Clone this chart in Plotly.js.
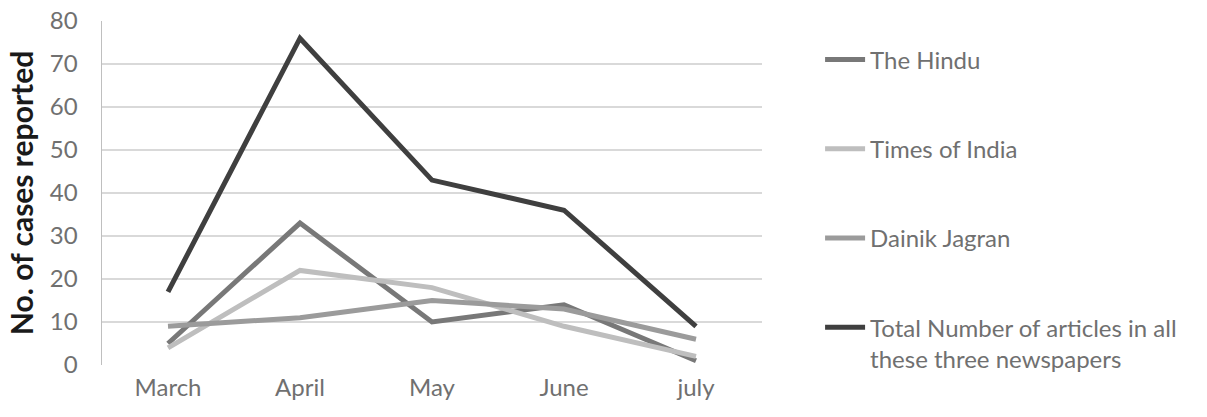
<!DOCTYPE html>
<html>
<head>
<meta charset="utf-8">
<script src="https://cdn.plot.ly/plotly-3.0.1.min.js"></script>
<style>html,body{margin:0;padding:0;background:#fff;}#chart{width:1207px;height:417px;}</style>
</head>
<body>
<div id="chart"></div>
<script>
const months = ["March", "April", "May", "June", "july"];
const theHindu = [5, 33, 10, 14, 1];
const timesOfIndia = [4, 22, 18, 9, 2];
const dainikJagran = [9, 11, 15, 13, 6];
const totalArticles = [17, 76, 43, 36, 9];
const seriesNames = ["The Hindu", "Times of India", "Dainik Jagran", "Total Number of articles in all<br>these three newspapers"];
const yTicks = [0, 10, 20, 30, 40, 50, 60, 70, 80];

const colors = ["#787878", "#bebebe", "#9b9b9b", "#3f3f3f"];
const seriesData = [theHindu, timesOfIndia, dainikJagran, totalArticles];

const traces = seriesData.map((vals, i) => ({
  type: "scatter",
  mode: "lines",
  x: months,
  y: vals,
  name: seriesNames[i],
  legendgroup: "g" + i,
  line: {color: colors[i], width: 5},
  hoverinfo: "skip"
}));

const layout = {
  width: 1207,
  height: 417,
  margin: {l: 102, r: 445, t: 21, b: 52},
  paper_bgcolor: "#ffffff",
  plot_bgcolor: "#ffffff",
  font: {family: "Lato, 'Open Sans', sans-serif", color: "#707070", size: 24},
  xaxis: {
    type: "category",
    range: [-0.5, 4.5],
    showgrid: false,
    zeroline: false,
    showline: false,
    ticks: "",
    ticklabelstandoff: 6,
    tickfont: {size: 24, color: "#707070"},
    fixedrange: true
  },
  yaxis: {
    range: [0, 80],
    tickvals: yTicks,
    ticktext: yTicks.map(String),
    showgrid: true,
    gridcolor: "#d9d9d9",
    gridwidth: 1.5,
    zeroline: false,
    showline: true,
    linecolor: "#bfbfbf",
    linewidth: 1.5,
    ticks: "",
    ticklabelstandoff: 18,
    tickfont: {size: 24, color: "#707070"},
    title: {text: "<b>No. of cases reported</b>", font: {size: 30, color: "#1a1a1a"}, standoff: 7},
    fixedrange: true
  },
  showlegend: true,
  legend: {
    x: 1.088,
    y: 0.952,
    xanchor: "left",
    yanchor: "top",
    tracegroupgap: 55,
    valign: "top",
    font: {size: 24, color: "#707070"},
    itemwidth: 40,
    bgcolor: "rgba(0,0,0,0)"
  }
};

Plotly.newPlot("chart", traces, layout, {displayModeBar: false, staticPlot: true});
</script>
</body>
</html>
